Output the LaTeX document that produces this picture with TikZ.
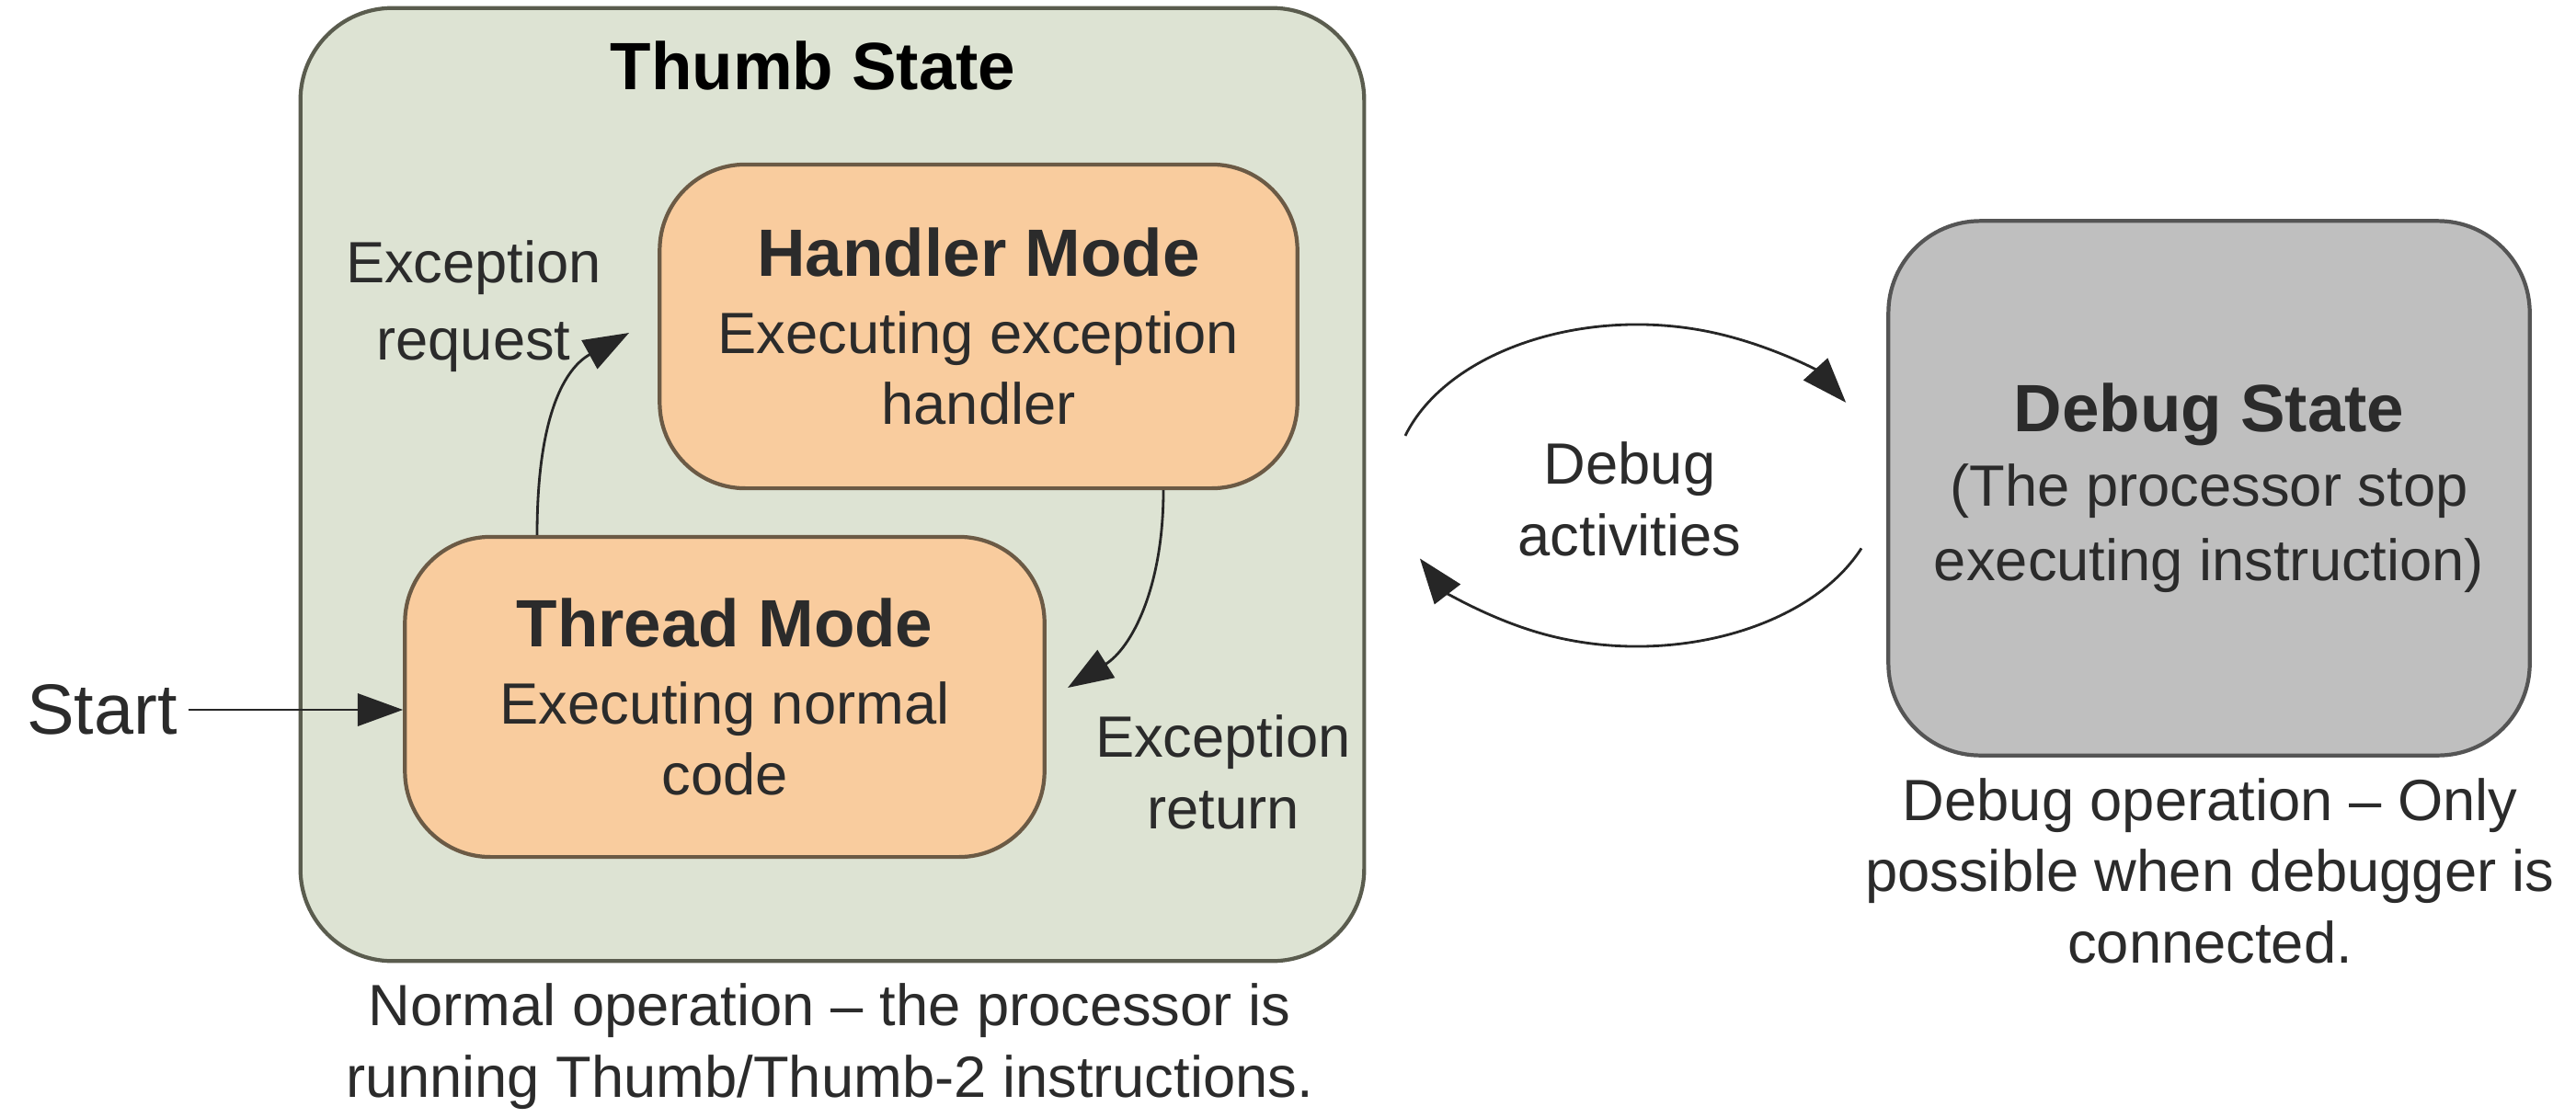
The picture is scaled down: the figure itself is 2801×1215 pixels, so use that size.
\documentclass[tikz,border=0pt]{standalone}
\usepackage{fontspec}
\setmainfont{Liberation Sans}
\usetikzlibrary{arrows.meta,calc}

\definecolor{thumbfill}{HTML}{DDE3D3}
\definecolor{thumbline}{HTML}{5A5C4E}
\definecolor{modefill}{HTML}{F9CC9E}
\definecolor{modeline}{HTML}{6B5A45}
\definecolor{dbgfill}{HTML}{BFBFBF}
\definecolor{dbgline}{HTML}{555555}
\definecolor{txt}{HTML}{2B2B2B}

\tikzset{
  regular/.style={font=\fontsize{18}{22}\selectfont, text=txt},
  heading/.style={font=\bfseries\fontsize{20.7}{24}\selectfont, text=black},
  statebox/.style={draw=thumbline, fill=thumbfill, line width=1.2pt, rounded corners=1.0cm},
  modebox/.style={draw=modeline, fill=modefill, line width=1.2pt, rounded corners=0.93cm,
    align=center, regular},
  debugbox/.style={draw=dbgline, fill=dbgfill, line width=1.2pt, rounded corners=1.0cm,
    align=center, font=\fontsize{18}{23}\selectfont, text=txt},
  conn/.style={draw=black!85, line width=0.8pt, -{Triangle[length=14pt,width=10pt]}},
}

\begin{document}
\begin{tikzpicture}[x=0.01cm, y=-0.01cm]
  \useasboundingbox[fill=white] (0,0) rectangle (2801,1215);

  % Thumb state container
  \node[statebox, minimum width=11.56cm, minimum height=10.36cm] (thumb) at (905,527) {};
  \node[heading] (thumbtitle) at (884,71) {Thumb State};

  % Processor modes
  \node[modebox, minimum width=6.93cm, minimum height=3.52cm] (handler) at (1064,355)
    {{\bfseries\fontsize{20.7}{24}\selectfont Handler Mode}\\[2pt]Executing exception\\handler};
  \node[modebox, minimum width=6.95cm, minimum height=3.48cm] (thread) at (788,758)
    {{\bfseries\fontsize{20.7}{24}\selectfont Thread Mode}\\[2pt]Executing normal\\code};

  % Debug state
  \node[debugbox, minimum width=6.97cm, minimum height=5.81cm] (debug) at (2402,531)
    {{\bfseries\fontsize{20.7}{24}\selectfont Debug State}\\(The processor stop\\executing instruction)};

  % Labels
  \node[regular, align=center] (reqlbl) at (515,333) {Exception\\[2pt]request};
  \node[regular, align=center] (retlbl) at (1330,840) {Exception\\return};
  \node[regular, font=\fontsize{22}{26}\selectfont] (start) at (111,772) {Start};
  \node[regular, align=center] (dbglbl) at (1772,543) {Debug\\activities};
  \node[regular, align=center] (thumbcap) at (902,1138)
    {Normal operation -- the processor is\\running Thumb/Thumb-2 instructions.};
  \node[regular, align=center] (dbgcap) at (2403,947)
    {Debug operation -- Only\\possible when debugger is\\connected.};

  % Connectors
  \draw[conn] (start.east) -- (start.east -| thread.west);

  \coordinate (reqtip) at (684,362);
  \draw[conn] (thread.north -| 584,0) .. controls (584,450) and (615,400) .. (reqtip);

  \coordinate (rettip) at (1161,748);
  \draw[conn] (handler.south -| 1265,0) .. controls (1265,640) and (1230,705) .. (rettip);

  % Debug activity loop
  \coordinate (dc) at (1780,528);
  \draw[conn] ($(dc)+(198:265 and 175)$) arc[start angle=198, end angle=329, x radius=265, y radius=175];
  \draw[conn] ($(dc)+(23:265 and 175)$) arc[start angle=23, end angle=153, x radius=265, y radius=175];
\end{tikzpicture}
\end{document}
